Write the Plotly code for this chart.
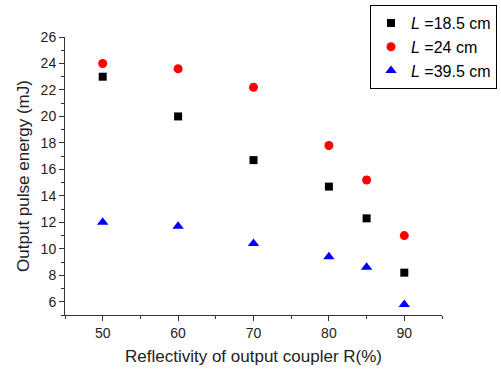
import plotly.graph_objects as go

R = [50, 60, 70, 80, 85, 90]
E_185 = [23.0, 20.0, 16.7, 14.7, 12.3, 8.2]
E_24 = [24.0, 23.6, 22.2, 17.8, 15.2, 11.0]
E_395 = [12.0, 11.7, 10.4, 9.4, 8.6, 5.8]
y_ticks = [6, 8, 10, 12, 14, 16, 18, 20, 22, 24, 26]
x_ticks = [50, 60, 70, 80, 90]

FONT = "Arial, Liberation Sans, sans-serif"

fig = go.Figure()
fig.add_trace(go.Scatter(x=R, y=E_185, mode="markers", name="<i>L</i> =18.5 cm",
                         marker=dict(symbol="square", size=8, color="black")))
fig.add_trace(go.Scatter(x=R, y=E_24, mode="markers", name="<i>L</i> =24 cm",
                         marker=dict(symbol="circle", size=9, color="red")))
fig.add_trace(go.Scatter(x=R, y=E_395, mode="markers", name="<i>L</i> =39.5 cm",
                         marker=dict(symbol="triangle-up", size=10, color="blue")))

axis_common = dict(showgrid=False, zeroline=False, showline=True, linecolor="#333",
                   linewidth=1, ticks="outside", ticklen=5, tickcolor="#333",
                   tickfont=dict(family=FONT, size=14, color="#222"))

fig.update_xaxes(range=[45, 95], tickvals=x_ticks,
                 minor=dict(dtick=5, tick0=45, ticks="outside", ticklen=3, tickcolor="#333"),
                 title=dict(text="Reflectivity of output coupler R(%)",
                            font=dict(family=FONT, size=17, color="#222"), standoff=10),
                 **axis_common)
fig.update_yaxes(range=[5, 26], tickvals=y_ticks,
                 minor=dict(dtick=1, tick0=5, ticks="outside", ticklen=3, tickcolor="#333"),
                 title=dict(text="Output pulse energy (mJ)",
                            font=dict(family=FONT, size=17, color="#222"), standoff=6),
                 **axis_common)

fig.update_layout(
    width=501, height=371,
    margin=dict(l=65, r=59, t=37, b=56, autoexpand=False),
    plot_bgcolor="white", paper_bgcolor="white",
    legend=dict(x=0.809, y=1.115, xanchor="left", yanchor="top",
                bordercolor="black", borderwidth=1, bgcolor="white",
                font=dict(family=FONT, size=16, color="black"),
                tracegroupgap=0, itemwidth=30),
    showlegend=True,
)

fig.write_html("out.html")
